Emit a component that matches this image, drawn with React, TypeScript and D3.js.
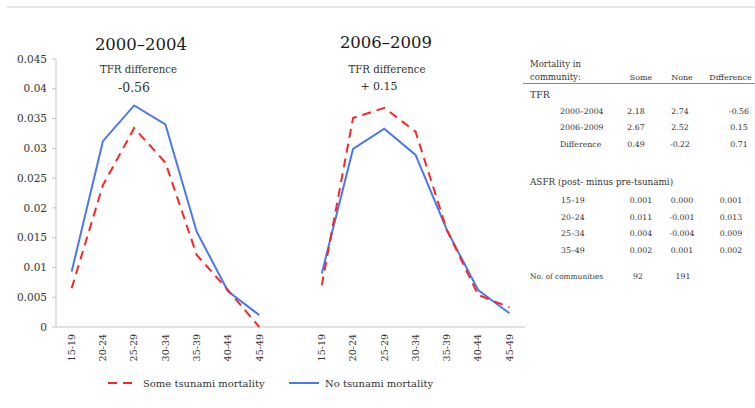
import React from 'react';
import * as d3 from 'd3';

// age groups shared by both periods
const ageGroups = ['15-19', '20-24', '25-29', '30-34', '35-39', '40-44', '45-49'];

// ASFR, 2000-2004
const someMort0004 = [0.0065, 0.0238, 0.0334, 0.0276, 0.0121, 0.0062, 0.0];
const noMort0004 = [0.0093, 0.0312, 0.0372, 0.034, 0.016, 0.006, 0.002];

// ASFR, 2006-2009
const someMort0609 = [0.007, 0.0351, 0.0368, 0.0328, 0.0163, 0.0054, 0.0033];
const noMort0609 = [0.009, 0.0299, 0.0333, 0.0289, 0.0163, 0.0062, 0.0023];

const yTicks = [0, 0.005, 0.01, 0.015, 0.02, 0.025, 0.03, 0.035, 0.04, 0.045];

// table on the right
const tableCols = ['Some', 'None', 'Difference'];
const tfrRows = ['2000–2004', '2006–2009', 'Difference'];
const tfrValues = [
  ['2.18', '2.74', '-0.56'],
  ['2.67', '2.52', '0.15'],
  ['0.49', '-0.22', '0.71'],
];
const asfrRows = ['15–19', '20–24', '25–34', '35–49'];
const asfrValues = [
  ['0.001', '0.000', '0.001'],
  ['0.011', '-0.001', '0.013'],
  ['0.004', '-0.004', '0.009'],
  ['0.002', '0.001', '0.002'],
];
const communities = ['92', '191'];

const RED = '#ff2424';
const BLUE = '#4a78f2';
const TEXT = '#333';
const FONT = '"DejaVu Serif", Georgia, serif';

const App = () => {
  const width = 755;
  const height = 408;

  // one continuous category axis: 7 slots, 1 gap slot, 7 slots
  const xScale = d3.scaleLinear().domain([-0.5, 14.5]).range([56, 525]);
  const yScale = d3.scaleLinear().domain([0, 0.045]).range([327, 59]);

  const leftIdx = ageGroups.map((_, i) => i);
  const rightIdx = ageGroups.map((_, i) => i + 8);

  const lineAt = (vals: number[], offset: number) =>
    d3
      .line<number>()
      .x((d, i) => xScale(i + offset))
      .y((d) => yScale(d))(vals) || '';

  const fmt = (v: number) => String(+v.toFixed(3));

  const colX = [636, 680, 739];
  const asfrX = [641, 682, 731];
  const tfrY = [114, 130, 147];
  const asfrY = [203, 219.5, 235.5, 253];

  return (
    <div style={{ position: 'absolute', left: 0, top: 0 }}>
      <svg width={width} height={height} style={{ display: 'block', background: '#fff' }} fontFamily={FONT}>
        {/* top rule */}
        <line x1={7} x2={755} y1={7} y2={7} stroke="#dcdcdc" strokeWidth={1.5} />

        {/* y axis */}
        <line x1={56} x2={56} y1={yScale(0.045)} y2={yScale(0)} stroke="#c4c4c4" />
        {yTicks.map((t) => (
          <g key={t}>
            <line x1={52} x2={56} y1={yScale(t)} y2={yScale(t)} stroke="#c4c4c4" />
            <text x={47} y={yScale(t)} dy="0.35em" textAnchor="end" fontSize={10.5} fill={TEXT}>
              {fmt(t)}
            </text>
          </g>
        ))}

        {/* x axis baseline */}
        <line x1={56} x2={525} y1={yScale(0)} y2={yScale(0)} stroke="#c4c4c4" />
        {[...leftIdx, ...rightIdx].map((idx, k) => (
          <text
            key={idx}
            transform={`translate(${xScale(idx)},334) rotate(-90)`}
            dy="0.35em"
            textAnchor="end"
            fontSize={9.5}
            fill={TEXT}
          >
            {ageGroups[k % 7]}
          </text>
        ))}

        {/* titles */}
        <text x={141} y={50} textAnchor="middle" fontSize={16.5} fill="#1a1a1a">2000–2004</text>
        <text x={386} y={48} textAnchor="middle" fontSize={16.5} fill="#1a1a1a">2006–2009</text>
        <text x={138.5} y={73} textAnchor="middle" fontSize={10.2} fill={TEXT}>TFR difference</text>
        <text x={134} y={92} textAnchor="middle" fontSize={12.5} fill={TEXT}>-0.56</text>
        <text x={387} y={72.5} textAnchor="middle" fontSize={10.2} fill={TEXT}>TFR difference</text>
        <text x={379} y={90} textAnchor="middle" fontSize={11} fill={TEXT}>+ 0.15</text>

        {/* lines */}
        <path d={lineAt(noMort0004, 0)} fill="none" stroke={BLUE} strokeWidth={2} />
        <path d={lineAt(someMort0004, 0)} fill="none" stroke={RED} strokeWidth={2} strokeDasharray="9,6" />
        <path d={lineAt(noMort0609, 8)} fill="none" stroke={BLUE} strokeWidth={2} />
        <path d={lineAt(someMort0609, 8)} fill="none" stroke={RED} strokeWidth={2} strokeDasharray="9,6" />

        {/* legend */}
        <line x1={108} x2={137} y1={383} y2={383} stroke={RED} strokeWidth={2} strokeDasharray="9,6" />
        <text x={143} y={383} dy="0.35em" fontSize={10} fill={TEXT}>Some tsunami mortality</text>
        <line x1={289} x2={319} y1={383} y2={383} stroke={BLUE} strokeWidth={2} />
        <text x={325} y={383} dy="0.35em" fontSize={10} fill={TEXT}>No tsunami mortality</text>

        {/* table */}
        <g fill={TEXT}>
          <text x={530} y={67} fontSize={8.5}>Mortality in</text>
          <text x={530} y={80} fontSize={8.5}>community:</text>
          {tableCols.map((c, i) => (
            <text key={c} x={[641, 682, 730.5][i]} y={80} textAnchor="middle" fontSize={8}>{c}</text>
          ))}
          <line x1={523} x2={755} y1={83.5} y2={83.5} stroke="#888" strokeWidth={1} />
          <text x={530} y={98} fontSize={9.3}>TFR</text>
          {tfrRows.map((r, i) => (
            <g key={r}>
              <text x={560} y={tfrY[i]} fontSize={7.8}>{r}</text>
              {tfrValues[i].map((v, j) => (
                <text key={j} x={colX[j]} y={tfrY[i]} textAnchor="middle" fontSize={7.8}>{v}</text>
              ))}
            </g>
          ))}
          <text x={530} y={185} fontSize={8.8}>ASFR  (post- minus pre-tsunami)</text>
          {asfrRows.map((r, i) => (
            <g key={r}>
              <text x={561} y={asfrY[i]} fontSize={7.8}>{r}</text>
              {asfrValues[i].map((v, j) => (
                <text key={j} x={asfrX[j]} y={asfrY[i]} textAnchor="middle" fontSize={7.8}>{v}</text>
              ))}
            </g>
          ))}
          <text x={530} y={279} fontSize={7.4}>No. of communities</text>
          {communities.map((v, j) => (
            <text key={j} x={[638, 683][j]} y={279} textAnchor="middle" fontSize={7.8}>{v}</text>
          ))}
        </g>
      </svg>
    </div>
  );
};

export default App;
